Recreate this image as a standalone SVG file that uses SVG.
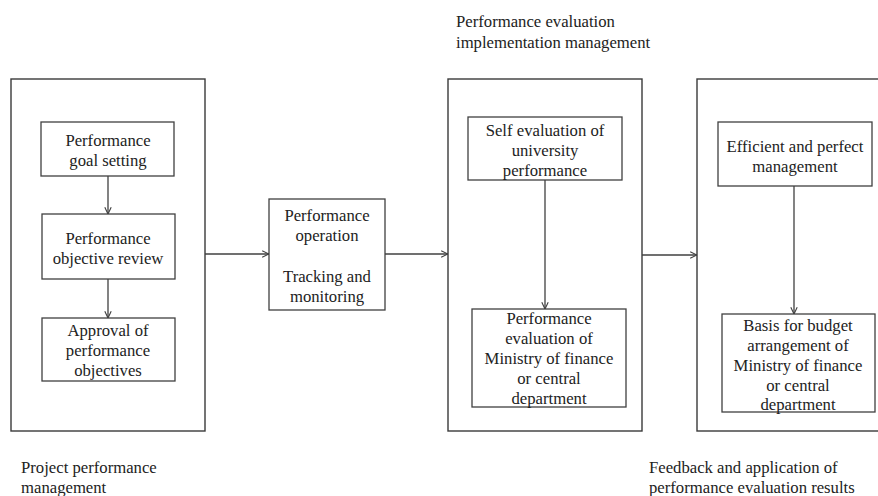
<svg xmlns="http://www.w3.org/2000/svg" width="878" height="496" viewBox="0 0 878 496">
<style>
.bg{fill:#fff}
.outer{fill:none;stroke:#3a3a3a;stroke-width:1.4}
.box{fill:none;stroke:#404040;stroke-width:1.3}
.l{font-family:Liberation Serif,serif;font-size:16.7px;fill:#222}
.m{text-anchor:middle}
.c{fill:none;stroke:#404040;stroke-width:1.3;marker-end:url(#ah)}
</style>
<defs>
<marker id="ah" viewBox="0 0 10 10" refX="9.5" refY="5" markerWidth="8" markerHeight="8" markerUnits="userSpaceOnUse" orient="auto">
<path d="M1,1 L9.5,5 L1,9" fill="none" stroke="#404040" stroke-width="1.4"/>
</marker>
</defs>
<rect class="bg" x="0" y="0" width="878" height="496"/>
<g id="project-performance-management">
<rect class="outer" x="11" y="79" width="194" height="352"/>
<text class="l" x="21" y="473">Project performance</text>
<text class="l" x="21" y="493">management</text>
</g>
<g id="goal-setting">
<rect class="box" x="41" y="122" width="133" height="54"/>
<text class="l m" x="108" y="146">Performance</text>
<text class="l m" x="108" y="166">goal setting</text>
</g>
<g id="objective-review">
<rect class="box" x="42" y="214" width="133" height="65"/>
<text class="l m" x="108" y="244">Performance</text>
<text class="l m" x="108" y="264">objective review</text>
</g>
<g id="approval">
<rect class="box" x="42" y="318" width="133" height="63"/>
<text class="l m" x="108" y="336">Approval of</text>
<text class="l m" x="108" y="356">performance</text>
<text class="l m" x="108" y="376">objectives</text>
</g>
<g id="operation">
<rect class="box" x="269" y="199" width="116" height="111"/>
<text class="l m" x="327" y="221">Performance</text>
<text class="l m" x="327" y="241">operation</text>
<text class="l m" x="327" y="282">Tracking and</text>
<text class="l m" x="327" y="302">monitoring</text>
</g>
<g id="evaluation-implementation">
<rect class="outer" x="448" y="79" width="194" height="352"/>
<text class="l" x="456" y="27">Performance evaluation</text>
<text class="l" x="456" y="48">implementation management</text>
</g>
<g id="self-evaluation">
<rect class="box" x="468" y="117" width="154" height="63"/>
<text class="l m" x="545" y="136">Self evaluation of</text>
<text class="l m" x="545" y="156">university</text>
<text class="l m" x="545" y="176">performance</text>
</g>
<g id="ministry-evaluation">
<rect class="box" x="472" y="309" width="154" height="98"/>
<text class="l m" x="549" y="324">Performance</text>
<text class="l m" x="549" y="344">evaluation of</text>
<text class="l m" x="549" y="364">Ministry of finance</text>
<text class="l m" x="549" y="384">or central</text>
<text class="l m" x="549" y="404">department</text>
</g>
<g id="feedback-application">
<rect class="outer" x="697" y="79" width="194" height="352"/>
<text class="l" x="649" y="473">Feedback and application of</text>
<text class="l" x="649" y="493">performance evaluation results</text>
</g>
<g id="efficient-management">
<rect class="box" x="718" y="122" width="154" height="64"/>
<text class="l m" x="795" y="152">Efficient and perfect</text>
<text class="l m" x="795" y="172">management</text>
</g>
<g id="budget-basis">
<rect class="box" x="722" y="314" width="153" height="98"/>
<text class="l m" x="798" y="331">Basis for budget</text>
<text class="l m" x="798" y="351">arrangement of</text>
<text class="l m" x="798" y="371">Ministry of finance</text>
<text class="l m" x="798" y="391">or central</text>
<text class="l m" x="798" y="410">department</text>
</g>
<g id="connectors">
<line class="c" x1="108" y1="176" x2="108" y2="214"/>
<line class="c" x1="108" y1="279" x2="108" y2="318"/>
<line class="c" x1="205" y1="254" x2="269" y2="254"/>
<line class="c" x1="385" y1="254" x2="448" y2="254"/>
<line class="c" x1="545" y1="180" x2="545" y2="309"/>
<line class="c" x1="642" y1="255" x2="697" y2="255"/>
<line class="c" x1="794" y1="186" x2="794" y2="314"/>
</g>
</svg>
